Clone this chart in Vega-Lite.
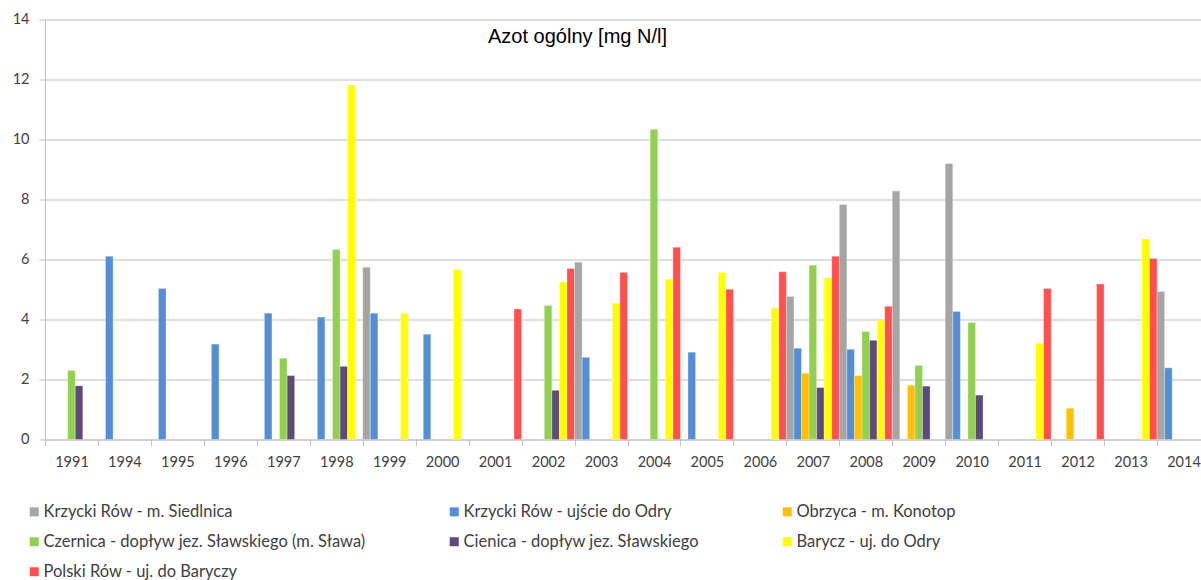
{
  "$schema": "https://vega.github.io/schema/vega-lite/v6.json",
  "autosize": {"type": "none"},
  "padding": {"left": 45, "top": 19.5, "right": 0, "bottom": 140.5},
  "width": 1165,
  "height": 420,
  "title": {
    "text": "Azot ogólny [mg N/l]",
    "font": "Liberation Sans",
    "fontSize": 20,
    "fontWeight": "normal",
    "color": "#000000",
    "anchor": "middle",
    "frame": "group",
    "dx": -50,
    "offset": -51,
    "baseline": "alphabetic"
  },
  "data": {
    "values": [
      {"rok": "1991", "seria": "Czernica - dopływ jez. Sławskiego (m. Sława)", "wartosc": 2.30},
      {"rok": "1991", "seria": "Cienica - dopływ jez. Sławskiego", "wartosc": 1.79},
      {"rok": "1994", "seria": "Krzycki Rów - ujście do Odry", "wartosc": 6.11},
      {"rok": "1995", "seria": "Krzycki Rów - ujście do Odry", "wartosc": 5.03},
      {"rok": "1996", "seria": "Krzycki Rów - ujście do Odry", "wartosc": 3.18},
      {"rok": "1997", "seria": "Krzycki Rów - ujście do Odry", "wartosc": 4.21},
      {"rok": "1997", "seria": "Czernica - dopływ jez. Sławskiego (m. Sława)", "wartosc": 2.71},
      {"rok": "1997", "seria": "Cienica - dopływ jez. Sławskiego", "wartosc": 2.13},
      {"rok": "1998", "seria": "Krzycki Rów - ujście do Odry", "wartosc": 4.08},
      {"rok": "1998", "seria": "Czernica - dopływ jez. Sławskiego (m. Sława)", "wartosc": 6.33},
      {"rok": "1998", "seria": "Cienica - dopływ jez. Sławskiego", "wartosc": 2.44},
      {"rok": "1998", "seria": "Barycz - uj. do Odry", "wartosc": 11.82},
      {"rok": "1999", "seria": "Krzycki Rów - m. Siedlnica", "wartosc": 5.74},
      {"rok": "1999", "seria": "Krzycki Rów - ujście do Odry", "wartosc": 4.21},
      {"rok": "1999", "seria": "Barycz - uj. do Odry", "wartosc": 4.21},
      {"rok": "2000", "seria": "Krzycki Rów - ujście do Odry", "wartosc": 3.51},
      {"rok": "2000", "seria": "Barycz - uj. do Odry", "wartosc": 5.67},
      {"rok": "2001", "seria": "Polski Rów - uj. do Baryczy", "wartosc": 4.35},
      {"rok": "2002", "seria": "Czernica - dopływ jez. Sławskiego (m. Sława)", "wartosc": 4.47},
      {"rok": "2002", "seria": "Cienica - dopływ jez. Sławskiego", "wartosc": 1.64},
      {"rok": "2002", "seria": "Barycz - uj. do Odry", "wartosc": 5.25},
      {"rok": "2002", "seria": "Polski Rów - uj. do Baryczy", "wartosc": 5.70},
      {"rok": "2003", "seria": "Krzycki Rów - m. Siedlnica", "wartosc": 5.91},
      {"rok": "2003", "seria": "Krzycki Rów - ujście do Odry", "wartosc": 2.74},
      {"rok": "2003", "seria": "Barycz - uj. do Odry", "wartosc": 4.54},
      {"rok": "2003", "seria": "Polski Rów - uj. do Baryczy", "wartosc": 5.57},
      {"rok": "2004", "seria": "Czernica - dopływ jez. Sławskiego (m. Sława)", "wartosc": 10.34},
      {"rok": "2004", "seria": "Barycz - uj. do Odry", "wartosc": 5.34},
      {"rok": "2004", "seria": "Polski Rów - uj. do Baryczy", "wartosc": 6.41},
      {"rok": "2005", "seria": "Krzycki Rów - ujście do Odry", "wartosc": 2.91},
      {"rok": "2005", "seria": "Barycz - uj. do Odry", "wartosc": 5.57},
      {"rok": "2005", "seria": "Polski Rów - uj. do Baryczy", "wartosc": 5.01},
      {"rok": "2006", "seria": "Barycz - uj. do Odry", "wartosc": 4.39},
      {"rok": "2006", "seria": "Polski Rów - uj. do Baryczy", "wartosc": 5.59},
      {"rok": "2007", "seria": "Krzycki Rów - m. Siedlnica", "wartosc": 4.77},
      {"rok": "2007", "seria": "Krzycki Rów - ujście do Odry", "wartosc": 3.04},
      {"rok": "2007", "seria": "Obrzyca - m. Konotop", "wartosc": 2.21},
      {"rok": "2007", "seria": "Czernica - dopływ jez. Sławskiego (m. Sława)", "wartosc": 5.81},
      {"rok": "2007", "seria": "Cienica - dopływ jez. Sławskiego", "wartosc": 1.73},
      {"rok": "2007", "seria": "Barycz - uj. do Odry", "wartosc": 5.38},
      {"rok": "2007", "seria": "Polski Rów - uj. do Baryczy", "wartosc": 6.11},
      {"rok": "2008", "seria": "Krzycki Rów - m. Siedlnica", "wartosc": 7.83},
      {"rok": "2008", "seria": "Krzycki Rów - ujście do Odry", "wartosc": 3.01},
      {"rok": "2008", "seria": "Obrzyca - m. Konotop", "wartosc": 2.13},
      {"rok": "2008", "seria": "Czernica - dopływ jez. Sławskiego (m. Sława)", "wartosc": 3.60},
      {"rok": "2008", "seria": "Cienica - dopływ jez. Sławskiego", "wartosc": 3.31},
      {"rok": "2008", "seria": "Barycz - uj. do Odry", "wartosc": 3.98},
      {"rok": "2008", "seria": "Polski Rów - uj. do Baryczy", "wartosc": 4.44},
      {"rok": "2009", "seria": "Krzycki Rów - m. Siedlnica", "wartosc": 8.28},
      {"rok": "2009", "seria": "Obrzyca - m. Konotop", "wartosc": 1.81},
      {"rok": "2009", "seria": "Czernica - dopływ jez. Sławskiego (m. Sława)", "wartosc": 2.47},
      {"rok": "2009", "seria": "Cienica - dopływ jez. Sławskiego", "wartosc": 1.78},
      {"rok": "2010", "seria": "Krzycki Rów - m. Siedlnica", "wartosc": 9.20},
      {"rok": "2010", "seria": "Krzycki Rów - ujście do Odry", "wartosc": 4.27},
      {"rok": "2010", "seria": "Czernica - dopływ jez. Sławskiego (m. Sława)", "wartosc": 3.90},
      {"rok": "2010", "seria": "Cienica - dopływ jez. Sławskiego", "wartosc": 1.48},
      {"rok": "2011", "seria": "Barycz - uj. do Odry", "wartosc": 3.21},
      {"rok": "2011", "seria": "Polski Rów - uj. do Baryczy", "wartosc": 5.03},
      {"rok": "2012", "seria": "Obrzyca - m. Konotop", "wartosc": 1.04},
      {"rok": "2012", "seria": "Polski Rów - uj. do Baryczy", "wartosc": 5.18},
      {"rok": "2013", "seria": "Barycz - uj. do Odry", "wartosc": 6.68},
      {"rok": "2013", "seria": "Polski Rów - uj. do Baryczy", "wartosc": 6.03},
      {"rok": "2014", "seria": "Krzycki Rów - m. Siedlnica", "wartosc": 4.93},
      {"rok": "2014", "seria": "Krzycki Rów - ujście do Odry", "wartosc": 2.39}
    ]
  },
  "mark": {"type": "bar", "stroke": "#ffffff", "strokeWidth": 0.5, "strokeOpacity": 0.6},
  "encoding": {
    "x": {
      "field": "rok",
      "type": "nominal",
      "sort": ["1991","1994","1995","1996","1997","1998","1999","2000","2001","2002","2003","2004","2005","2006","2007","2008","2009","2010","2011","2012","2013","2014"],
      "scale": {
        "domain": ["1991","1994","1995","1996","1997","1998","1999","2000","2001","2002","2003","2004","2005","2006","2007","2008","2009","2010","2011","2012","2013","2014"],
        "paddingInner": 0,
        "paddingOuter": 0
      },
      "axis": {
        "title": null,
        "labelAngle": 0,
        "tickBand": "extent",
        "tickSize": 6,
        "tickColor": "#BFBFBF",
        "domainColor": "#BFBFBF",
        "labelFont": "Lato",
        "labelFontSize": 14.5,
        "labelColor": "#404040",
        "labelPadding": 10,
        "grid": false
      }
    },
    "xOffset": {
      "field": "seria",
      "type": "nominal",
      "scale": {
        "domain": ["Krzycki Rów - m. Siedlnica", "Krzycki Rów - ujście do Odry", "Obrzyca - m. Konotop", "Czernica - dopływ jez. Sławskiego (m. Sława)", "Cienica - dopływ jez. Sławskiego", "Barycz - uj. do Odry", "Polski Rów - uj. do Baryczy"],
        "paddingInner": 0,
        "paddingOuter": 0
      }
    },
    "y": {
      "field": "wartosc",
      "type": "quantitative",
      "scale": {"domain": [0, 14], "nice": false},
      "axis": {
        "title": null,
        "values": [0, 2, 4, 6, 8, 10, 12, 14],
        "tickSize": 6,
        "tickColor": "#BFBFBF",
        "domainColor": "#BFBFBF",
        "gridColor": "#BFBFBF",
        "gridWidth": 1,
        "labelFont": "Lato",
        "labelFontSize": 14.5,
        "labelColor": "#404040",
        "labelPadding": 10
      }
    },
    "color": {
      "field": "seria",
      "type": "nominal",
      "scale": {
        "domain": ["Krzycki Rów - m. Siedlnica", "Krzycki Rów - ujście do Odry", "Obrzyca - m. Konotop", "Czernica - dopływ jez. Sławskiego (m. Sława)", "Cienica - dopływ jez. Sławskiego", "Barycz - uj. do Odry", "Polski Rów - uj. do Baryczy"],
        "range": ["#A5A5A5", "#558ED5", "#FFC000", "#92D050", "#604A7B", "#FFFF00", "#FF5050"]
      },
      "legend": {
        "title": null,
        "orient": "none",
        "direction": "horizontal",
        "legendX": -19,
        "legendY": 484,
        "columns": 3,
        "columnPadding": 80,
        "rowPadding": 13,
        "padding": 0,
        "symbolType": "square",
        "symbolSize": 81,
        "symbolStrokeWidth": 0,
        "labelFont": "Lato",
        "labelFontSize": 16.5,
        "labelColor": "#404040",
        "labelOffset": 1,
        "labelLimit": 500
      }
    }
  },
  "config": {
    "view": {"stroke": null},
    "background": "#ffffff"
  }
}
